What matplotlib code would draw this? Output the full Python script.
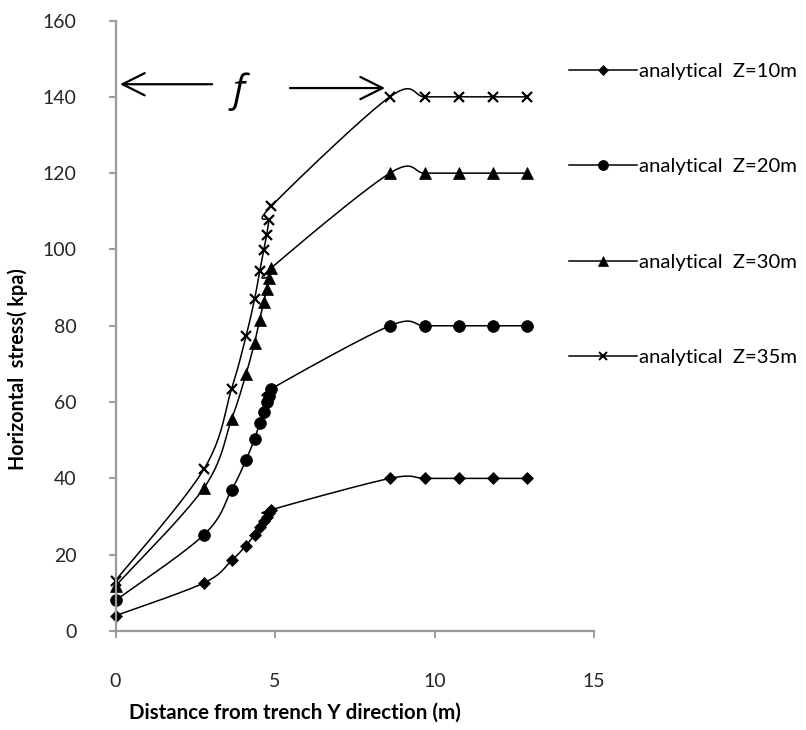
#! /usr/bin/env python3

import numpy as np
from matplotlib import pyplot as plt

# distance from the trench (m), shared by all four depths
distance = [0, 2.77, 3.64, 4.09, 4.36, 4.52, 4.65, 4.74, 4.81, 4.89, 8.6, 9.69, 10.76, 11.83, 12.91]

stress_z10 = [4, 12.6, 18.5, 22.4, 25.2, 27.2, 28.8, 30.0, 30.9, 31.8, 40, 40, 40, 40, 40]
stress_z20 = [8, 25.2, 37.0, 44.8, 50.4, 54.4, 57.5, 59.9, 61.7, 63.5, 80, 80, 80, 80, 80]
stress_z30 = [11.8, 37.5, 55.5, 67.3, 75.6, 81.6, 86.2, 89.7, 92.5, 95.2, 120, 120, 120, 120, 120]
stress_z35 = [13.2, 42.4, 63.5, 77.2, 87.0, 94.3, 99.8, 103.8, 107.6, 111.4, 140, 140, 140, 140, 140]

series = [
    ("analytical  Z=10m", stress_z10, "D", 6.2),
    ("analytical  Z=20m", stress_z20, "o", 8.5),
    ("analytical  Z=30m", stress_z30, "^", 8.4),
    ("analytical  Z=35m", stress_z35, "x", 7.0),
]

FONT = ["Lato", "DejaVu Sans"]
GREY = "#9a9a9a"


def smooth_curve(xs, ys, steps=24):
    """Spreadsheet-style smoothed line: cubic Bezier pieces through every point."""
    pts = np.column_stack([xs, ys]).astype(float)
    out = [pts[0]]
    t = np.linspace(0.0, 1.0, steps)[1:, None]
    for i in range(len(pts) - 1):
        p0 = pts[i - 1] if i > 0 else pts[i]
        p1 = pts[i]
        p2 = pts[i + 1]
        p3 = pts[i + 2] if i + 2 < len(pts) else pts[i + 1]
        c1 = p1 + (p2 - p0) / 6.0
        c2 = p2 - (p3 - p1) / 6.0
        seg = ((1 - t) ** 3) * p1 + 3 * ((1 - t) ** 2) * t * c1 + 3 * (1 - t) * t ** 2 * c2 + t ** 3 * p2
        out.extend(seg)
    out = np.array(out)
    return out[:, 0], out[:, 1]


plt.rcParams["font.family"] = FONT

fig = plt.figure(figsize=(8.06, 7.30), dpi=100)
ax = fig.add_axes([115.5 / 806, 0.1356, 478.5 / 806, 0.8363])

handles = []
for label, values, marker, msize in series:
    sx, sy = smooth_curve(distance, values)
    ax.plot(sx, sy, color="black", lw=1.1, clip_on=False)
    ax.plot(distance, values, linestyle="none", marker=marker, markersize=msize,
            color="black", markeredgewidth=1.6 if marker == "x" else 0.5, clip_on=False)
    h, = ax.plot([], [], color="black", lw=1.1, marker=marker, markersize=msize * 0.85,
                 markeredgewidth=1.4 if marker == "x" else 0.5)
    handles.append((h, label))

ax.set_xlim(0, 15)
ax.set_ylim(0, 160)
ax.set_xticks([0, 5, 10, 15])
ax.set_yticks(range(0, 161, 20))

for side in ("top", "right"):
    ax.spines[side].set_visible(False)
for side in ("left", "bottom"):
    ax.spines[side].set_color(GREY)
    ax.spines[side].set_linewidth(1.6)

ax.tick_params(axis="both", colors=GREY, width=1.4, length=5, labelsize=14, labelcolor="#262626")
ax.tick_params(axis="x", pad=25)
ax.tick_params(axis="y", pad=23)

ax.set_xlabel("Distance from trench Y direction (m)", fontsize=14.8, fontweight="bold")
ax.xaxis.label.set_va("center")
ax.xaxis.set_label_coords(0.375, -(713 - 631) / 610.5)
ax.set_ylabel("Horizontal  stress( kpa)", fontsize=14.2, fontweight="bold")
ax.yaxis.label.set_va("center")
ax.yaxis.set_label_coords((18 - 115.5) / 478.5, (631 - 369) / 610.5)

# the f span marker above the Z=35m curve
arrow = dict(arrowstyle="->,head_length=0.8,head_width=0.4", lw=1.6, color="black",
             mutation_scale=20, shrinkA=0, shrinkB=0)
ax.annotate("", xy=(0.14, 143.3), xytext=(3.03, 143.3), arrowprops=arrow, annotation_clip=False)
ax.annotate("", xy=(8.45, 142.3), xytext=(5.47, 142.3), arrowprops=arrow, annotation_clip=False)
ax.text(3.84, 141.3, "f", fontsize=28, style="italic", ha="center", va="center",
        family=["Open Sans", "DejaVu Sans"])

fig.legend([h for h, _ in handles], [l for _, l in handles],
           loc="upper left", bbox_to_anchor=(569 / 806, 1 - 63 / 730),
           frameon=False, fontsize=14.6, handlelength=3.35, handletextpad=0.12,
           labelspacing=3.85, borderpad=0, borderaxespad=0)

fig.savefig("out.png", dpi=100)
